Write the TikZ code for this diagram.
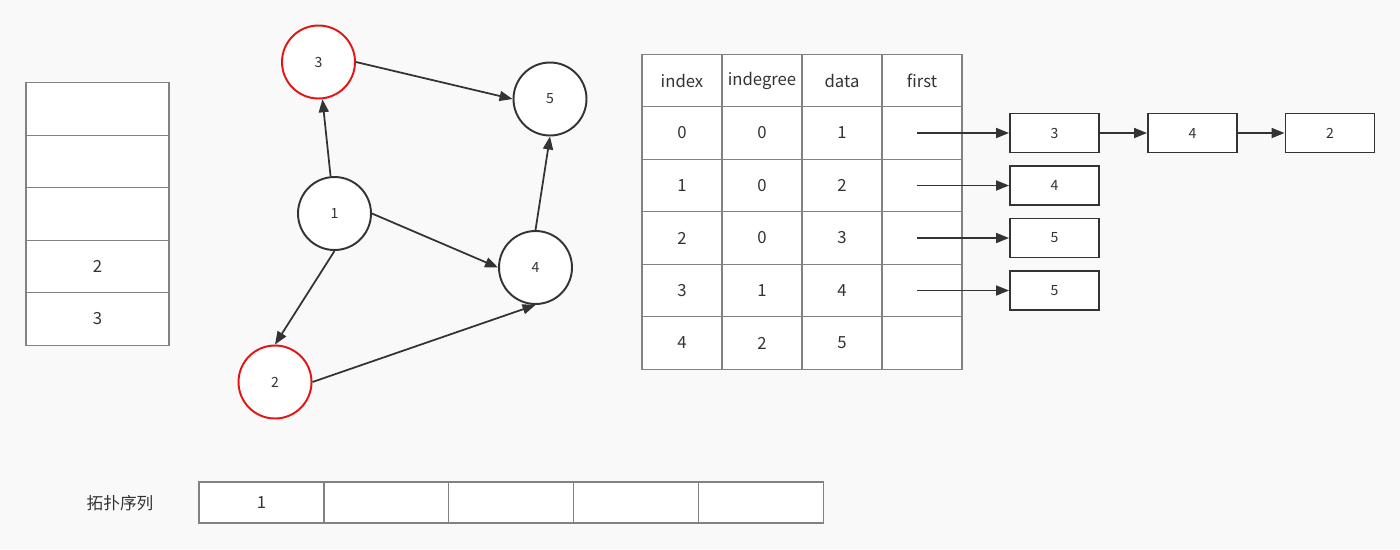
\documentclass[tikz,border=0pt]{standalone}
\usepackage{fontspec}
\setmainfont{Noto Sans CJK SC}
\usetikzlibrary{arrows.meta,positioning}
\definecolor{bggray}{RGB}{249,249,249}
\definecolor{linegray}{RGB}{130,130,130}
\definecolor{inkgray}{RGB}{51,51,51}
\definecolor{markred}{RGB}{226,20,20}

\begin{document}
\begin{tikzpicture}[
    x=0.02cm, y=-0.02cm,
    >={Triangle[length=0.26cm,width=0.2cm]},
    vertex/.style={
        circle,
        draw=inkgray,
        line width=1.1pt,
        fill=white,
        minimum size=1.46cm,
        inner sep=0pt,
        font=\footnotesize,
        text=inkgray
    },
    visited/.style={vertex, draw=markred},
    cell/.style={
        rectangle,
        draw=linegray,
        line width=0.6pt,
        fill=white,
        minimum width=1.6cm,
        minimum height=1.05cm,
        inner sep=0pt,
        outer sep=0pt,
        font=\fontsize{9.5}{11}\selectfont,
        text=inkgray
    },
    stackcell/.style={cell, minimum width=2.86cm},
    seqcell/.style={cell, minimum width=2.5cm, minimum height=0.82cm},
    listbox/.style={
        rectangle,
        draw=inkgray,
        line width=1.1pt,
        fill=white,
        minimum width=1.78cm,
        minimum height=0.78cm,
        inner sep=0pt,
        font=\footnotesize,
        text=inkgray
    },
    arrowline/.style={->, draw=inkgray, line width=1pt}
]
\fill[bggray] (0,0) rectangle (1400,549);

% stack
\node[stackcell] (s1) at (97.5,109) {};
\node[stackcell, below=0pt of s1] (s2) {};
\node[stackcell, below=0pt of s2] (s3) {};
\node[stackcell, below=0pt of s3] (s4) {2};
\node[stackcell, below=0pt of s4] (s5) {3};

% graph
\node[vertex] (n1) at (334.5,213.5) {1};
\node[visited] (n2) at (275,382) {2};
\node[visited] (n3) at (318.5,62) {3};
\node[vertex] (n4) at (535.5,267.5) {4};
\node[vertex] (n5) at (550,99) {5};

\draw[arrowline] (n1) -- (n3);
\draw[arrowline] (n1.east) -- (n4.west);
\draw[arrowline] (n1.south) -- (n2.north);
\draw[arrowline] (n2.east) -- (n4.south);
\draw[arrowline] (n4.north) -- (n5.south);
\draw[arrowline] (n3.east) -- (n5.west);

% vertex table
\foreach \txt [count=\c] in {index,indegree,data,first}
    \node[cell] (h\c) at ({602+80*\c},80.5) {\txt};
\foreach \idx/\deg/\dat [count=\r] in {0/0/1,1/0/2,2/0/3,3/1/4,4/2/5} {
    \node[cell] (i\r) at (682,{80.5+52.5*\r}) {\idx};
    \node[cell] (d\r) at (762,{80.5+52.5*\r}) {\deg};
    \node[cell] (v\r) at (842,{80.5+52.5*\r}) {\dat};
    \node[cell] (f\r) at (922,{80.5+52.5*\r}) {};
}

% adjacency lists
\node[listbox] (a1) at (1054.5,133) {3};
\node[listbox] (a2) at (1192.5,133) {4};
\node[listbox] (a3) at (1330,133) {2};
\node[listbox] (b1) at (1054.5,185.5) {4};
\node[listbox] (c1) at (1054.5,238) {5};
\node[listbox] (e1) at (1054.5,290.5) {5};

\foreach \r in {1,...,4}
    \coordinate (p\r) at ([xshift=-0.1cm]f\r.center);

\draw[arrowline] (p1) -- (a1.west);
\draw[arrowline] (a1) -- (a2);
\draw[arrowline] (a2) -- (a3);
\draw[arrowline] (p2) -- (b1.west);
\draw[arrowline] (p3) -- (c1.west);
\draw[arrowline] (p4) -- (e1.west);

% topological order
\node[font=\fontsize{9.5}{11}\selectfont, text=inkgray] (seqlabel) at (120,503) {拓扑序列};
\node[seqcell] (q1) at (261.5,502.5) {1};
\node[seqcell, right=0pt of q1] (q2) {};
\node[seqcell, right=0pt of q2] (q3) {};
\node[seqcell, right=0pt of q3] (q4) {};
\node[seqcell, right=0pt of q4] (q5) {};
\end{tikzpicture}
\end{document}
